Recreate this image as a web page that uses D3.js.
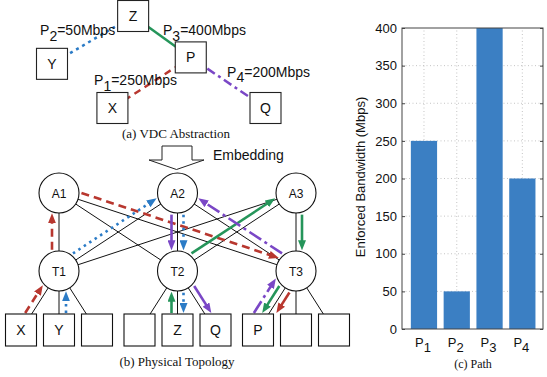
<!DOCTYPE html>
<html>
<head>
<meta charset="utf-8">
<script src="https://cdn.jsdelivr.net/npm/d3@7"></script>
<style>
  body { margin: 0; background: #fff; }
  svg { display: block; }
  text { font-family: "Liberation Sans", Arial, Helvetica, sans-serif; fill: #111; }
  .caption { font-family: "Liberation Serif", "Times New Roman", serif; }
</style>
</head>
<body>
<div id="chart"></div>
<script>
// ---------- Data ----------
const pathNames = ["P1", "P2", "P3", "P4"];
const bandwidth = [250, 50, 400, 200];          // Mbps
const yTicks = [0, 50, 100, 150, 200, 250, 300, 350, 400];

// (a) VDC abstraction, positions on a 0-100 grid
const vdcNames = ["Z", "Y", "P", "X", "Q"];
const vdcCol = [38, 0, 65, 28.3, 100];
const vdcRow = [0, 52, 45, 100, 100];
const vdcLinks = [["P", "X"], ["Y", "Z"], ["Z", "P"], ["P", "Q"]];   // one per path, same order
const vdcLabelCol = [19.7, -5.6, 52, 82];
const vdcLabelRow = [75, 20.7, 20.7, 66.3];

// (b) physical topology
const aggNames = ["A1", "A2", "A3"];
const torNames = ["T1", "T2", "T3"];
const hostNames = ["X", "Y", "", "", "Z", "Q", "P", "", ""];
const flowHops = [
    [["X", "T1"], ["T1", "A1"], ["A1", "T3"], ["T3", "P"]],
    [["Y", "T1"], ["T1", "A2"], ["A2", "T2"], ["T2", "Z"]],
    [["Z", "T2"], ["T2", "A3"], ["A3", "T3"], ["T3", "P"]],
    [["P", "T3"], ["T3", "A2"], ["A2", "T2"], ["T2", "Q"]]
];

// ---------- Styles ----------
const pathColors = ["#b8372f", "#2b7bc6", "#25955a", "#7a47c6"];
const pathDash = ["8,5", "2.5,4", null, "14,4,3,4"];
// offset (px) of each coloured hop from its black link, and per-hop dash override
const hopOffset = [[-6, -7, 7, 6], [7, -7, 6, 6], [-6, -7, 6, -6], [-13, 7, -6, 6]];
const hopDash = [[null, null, null, ""], [null, null, null, null], [null, null, null, null], [null, null, "", ""]];

const W = 547, H = 377;
const svg = d3.select("#chart").append("svg")
    .attr("width", W)
    .attr("height", H);
const defs = svg.append("defs");

pathColors.forEach(function(c, i) {
    defs.append("marker")
        .attr("id", "arrow" + i)
        .attr("viewBox", "0 0 10 8")
        .attr("refX", 1).attr("refY", 4)
        .attr("markerWidth", 10).attr("markerHeight", 8)
        .attr("markerUnits", "userSpaceOnUse")
        .attr("orient", "auto")
        .append("path")
        .attr("d", "M0,0L10,4L0,8Z")
        .attr("fill", c);
});

// subscripted path label, e.g. P<sub>1</sub>=250Mbps
function pathLabel(sel, name, tail, drop) {
    sel.append("tspan").text(name[0]);
    sel.append("tspan").attr("dy", drop).text(name.slice(1));
    if (tail) sel.append("tspan").attr("dy", -drop).text(tail);
}

// ---------- (a) VDC Abstraction ----------
const vx = d3.scaleLinear().domain([0, 100]).range([52, 265.5]);
const vy = d3.scaleLinear().domain([0, 100]).range([16, 108]);
const vpos = function(n) {
    const i = vdcNames.indexOf(n);
    return [vx(vdcCol[i]), vy(vdcRow[i])];
};
const vdcDash = ["7,5", "3,4", null, "9,4,3,4"];

let vdc = svg.append("g");
vdc.selectAll("line")
    .data(vdcLinks)
    .join("line")
    .attr("x1", d => vpos(d[0])[0]).attr("y1", d => vpos(d[0])[1])
    .attr("x2", d => vpos(d[1])[0]).attr("y2", d => vpos(d[1])[1])
    .attr("stroke", (d, i) => pathColors[i])
    .attr("stroke-width", 2.5)
    .attr("stroke-dasharray", (d, i) => vdcDash[i]);

vdc.selectAll("rect")
    .data(vdcNames)
    .join("rect")
    .attr("x", d => vpos(d)[0] - 15.5)
    .attr("y", d => vpos(d)[1] - 15.5)
    .attr("width", 31).attr("height", 31)
    .attr("fill", "#fff").attr("stroke", "#222").attr("stroke-width", 1.1);

vdc.selectAll("text.node")
    .data(vdcNames)
    .join("text")
    .attr("class", "node")
    .attr("x", d => vpos(d)[0])
    .attr("y", d => vpos(d)[1] + 5)
    .attr("text-anchor", "middle")
    .style("font-size", "14px")
    .text(d => d);

pathNames.forEach(function(p, i) {
    let t = vdc.append("text")
        .attr("x", vx(vdcLabelCol[i]))
        .attr("y", vy(vdcLabelRow[i]))
        .style("font-size", "14px");
    pathLabel(t, p, "=" + bandwidth[i] + "Mbps", 5.5);
});

svg.append("text").attr("class", "caption")
    .attr("x", 176).attr("y", 138)
    .attr("text-anchor", "middle")
    .style("font-size", "13px")
    .text("(a) VDC Abstraction");

// Embedding arrow
const arrowPts = [[162, 146], [192, 146], [192, 160], [204, 160], [176.5, 169.5], [149, 160], [162, 160]];
svg.append("path")
    .attr("d", d3.line()(arrowPts) + "Z")
    .attr("fill", "#fff").attr("stroke", "#222").attr("stroke-width", 1);
svg.append("text")
    .attr("x", 213).attr("y", 160)
    .style("font-size", "14px")
    .text("Embedding");

// ---------- (b) Physical Topology ----------
const podX = d3.scalePoint().domain([0, 1, 2]).range([59, 296]);
const slotX = d3.scalePoint().domain([0, 1, 2]).range([-38, 38]);
const layerY = d3.scaleOrdinal().domain(["agg", "tor", "host"]).range([193, 271, 314]);
const R = 20, hostW = 31, hostH = 32;

const nodes = {};
aggNames.forEach((n, i) => nodes[n] = {x: podX(i), y: layerY("agg"), type: "circle", name: n});
torNames.forEach((n, i) => nodes[n] = {x: podX(i), y: layerY("tor"), type: "circle", name: n});
const hosts = hostNames.map(function(n, i) {
    const pod = Math.floor(i / 3);
    const cx = podX(pod) + slotX(i % 3);
    const h = {cx: cx, x: cx + (podX(pod) - cx) * 0.28, y: layerY("host"), type: "host", name: n, tor: torNames[pod]};
    if (n) nodes[n] = h;
    return h;
});

let topo = svg.append("g");

// black links
let links = [];
aggNames.forEach(a => torNames.forEach(t => links.push([nodes[a], nodes[t]])));
hosts.forEach(h => links.push([nodes[h.tor], h]));
topo.append("g").selectAll("line")
    .data(links)
    .join("line")
    .attr("x1", d => d[0].x).attr("y1", d => d[0].y)
    .attr("x2", d => d[1].x).attr("y2", d => d[1].y)
    .attr("stroke", "#111").attr("stroke-width", 1);

// coloured flow hops
function hopGeom(a, b, off) {
    const up = a.y <= b.y ? a : b, lo = up === a ? b : a;
    const L0 = Math.hypot(lo.x - up.x, lo.y - up.y);
    const nx = (lo.y - up.y) / L0, ny = -(lo.x - up.x) / L0;
    const ax = a.x + nx * off, ay = a.y + ny * off;
    const ux = (b.x - a.x) / L0, uy = (b.y - a.y) / L0;
    const Rr = R + 1.5;
    let t0, t1;
    if (a.type === "circle") t0 = Math.sqrt(Rr * Rr - off * off) + 1;
    else t0 = (a.y - 1 - ay) / uy;
    if (b.type === "circle") t1 = L0 - Math.sqrt(Rr * Rr - off * off);
    else t1 = (b.y - 1 - ay) / uy;
    const endT = t1 - 9;
    return {x1: ax + ux * t0, y1: ay + uy * t0, x2: ax + ux * endT, y2: ay + uy * endT};
}

let hopData = [];
flowHops.forEach(function(hops, f) {
    hops.forEach(function(h, k) {
        const g = hopGeom(nodes[h[0]], nodes[h[1]], hopOffset[f][k]);
        g.flow = f;
        g.dash = hopDash[f][k] === null ? pathDash[f] : hopDash[f][k];
        hopData.push(g);
    });
});
topo.append("g").selectAll("line")
    .data(hopData)
    .join("line")
    .attr("x1", d => d.x1).attr("y1", d => d.y1)
    .attr("x2", d => d.x2).attr("y2", d => d.y2)
    .attr("stroke", d => pathColors[d.flow])
    .attr("stroke-width", 2.6)
    .attr("stroke-dasharray", d => d.dash || null)
    .attr("marker-end", d => `url(#arrow${d.flow})`);

// switches
const switches = aggNames.concat(torNames).map(n => nodes[n]);
let sw = topo.append("g").selectAll("g")
    .data(switches)
    .join("g")
    .attr("transform", d => `translate(${d.x},${d.y})`);
sw.append("circle").attr("r", R)
    .attr("fill", "#fff").attr("stroke", "#111").attr("stroke-width", 1.1);
sw.append("text")
    .attr("text-anchor", "middle").attr("y", 4.5)
    .style("font-size", "12px")
    .text(d => d.name);

// hosts
let hs = topo.append("g").selectAll("g")
    .data(hosts)
    .join("g")
    .attr("transform", d => `translate(${d.cx - hostW / 2},${d.y})`);
hs.append("rect")
    .attr("width", hostW).attr("height", hostH)
    .attr("fill", "#fff").attr("stroke", "#111").attr("stroke-width", 1.1);
hs.append("text")
    .attr("x", hostW / 2).attr("y", hostH / 2 + 5)
    .attr("text-anchor", "middle")
    .style("font-size", "14px")
    .text(d => d.name);

svg.append("text").attr("class", "caption")
    .attr("x", 177).attr("y", 366)
    .attr("text-anchor", "middle")
    .style("font-size", "13px")
    .text("(b) Physical Topology");

// ---------- (c) Path bar chart ----------
const bx = d3.scaleLinear().domain([0.33, 4.63]).range([402, 543]);
const by = d3.scaleLinear().domain([0, 400]).range([329, 28]);
let chart = svg.append("g");

// grid
chart.append("g").selectAll("line")
    .data(yTicks.slice(1, -1))
    .join("line")
    .attr("x1", bx.range()[0]).attr("x2", bx.range()[1])
    .attr("y1", d => by(d)).attr("y2", d => by(d))
    .attr("stroke", "#b5b5b5").attr("stroke-width", 0.8).attr("stroke-dasharray", "1,2.5");
chart.append("g").selectAll("line")
    .data(pathNames)
    .join("line")
    .attr("x1", (d, i) => bx(i + 1)).attr("x2", (d, i) => bx(i + 1))
    .attr("y1", by.range()[0]).attr("y2", by.range()[1])
    .attr("stroke", "#b5b5b5").attr("stroke-width", 0.8).attr("stroke-dasharray", "1,2.5");

// bars
chart.append("g").selectAll("rect")
    .data(bandwidth)
    .join("rect")
    .attr("x", (d, i) => bx(i + 1 - 0.4))
    .attr("width", bx(0.8) - bx(0))
    .attr("y", d => by(d))
    .attr("height", d => by(0) - by(d))
    .attr("fill", "#3b7fc3");

// axes box and inward ticks
chart.append("rect")
    .attr("x", bx.range()[0]).attr("y", by.range()[1])
    .attr("width", bx.range()[1] - bx.range()[0])
    .attr("height", by.range()[0] - by.range()[1])
    .attr("fill", "none").attr("stroke", "#444").attr("stroke-width", 1);
chart.append("g").call(d3.axisLeft(by).tickValues(yTicks).tickSize(-3).tickPadding(5))
    .attr("transform", `translate(${bx.range()[0]},0)`)
    .call(g => g.select(".domain").remove())
    .call(g => g.selectAll("line").attr("stroke", "#444"))
    .call(g => g.selectAll("text").style("font-size", "13px").attr("fill", "#111")
        .style("font-family", '"Liberation Sans", Arial, sans-serif'));
chart.append("g").call(d3.axisRight(by).tickValues(yTicks).tickSize(-3).tickFormat(""))
    .attr("transform", `translate(${bx.range()[1]},0)`)
    .call(g => g.select(".domain").remove())
    .call(g => g.selectAll("line").attr("stroke", "#444"));

// x tick labels with subscripts
pathNames.forEach(function(p, i) {
    let t = chart.append("text")
        .attr("x", bx(i + 1) - 1).attr("y", 347)
        .attr("text-anchor", "middle")
        .style("font-size", "13px");
    pathLabel(t, p, null, 4.5);
});

chart.append("text")
    .attr("transform", `translate(365,177) rotate(-90)`)
    .attr("text-anchor", "middle")
    .style("font-size", "13px")
    .text("Enforced Bandwidth (Mbps)");

svg.append("text").attr("class", "caption")
    .attr("x", 473).attr("y", 368)
    .attr("text-anchor", "middle")
    .style("font-size", "12px")
    .text("(c) Path");
</script>
</body>
</html>
